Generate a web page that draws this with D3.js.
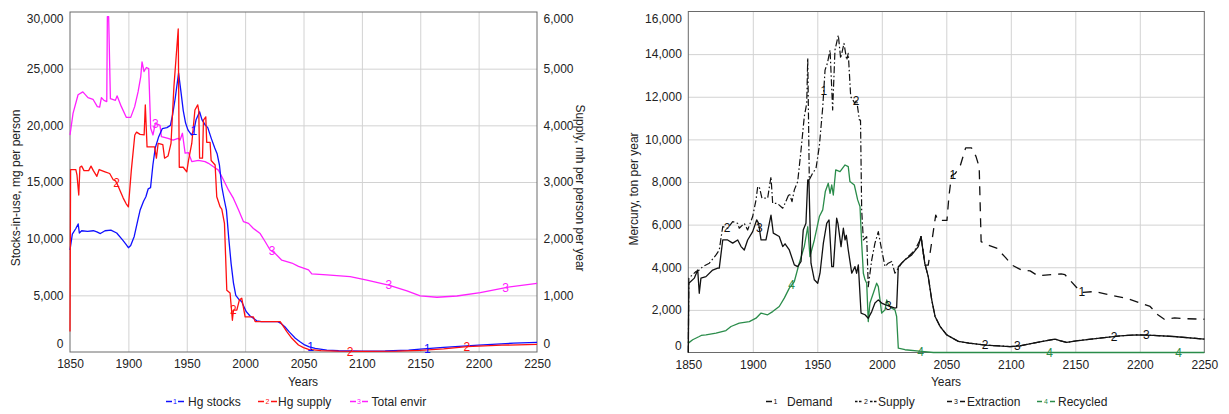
<!DOCTYPE html>
<html><head><meta charset="utf-8">
<script src="https://cdn.jsdelivr.net/npm/d3@7"></script>
<style>
body{margin:0;background:#fff;}
svg{display:block;font-family:"Liberation Sans",Arial,sans-serif;}
</style></head><body>
<svg id="c" width="1229" height="414"></svg>
<script>
// ---------------- DATA (left panel) ----------------
const yearTicks = [1850,1900,1950,2000,2050,2100,2150,2200,2250];
const stocksTicks = [0,5000,10000,15000,20000,25000,30000];
const supplyPPTicks = [0,1000,2000,3000,4000,5000,6000];
const mercuryTicks = [0,2000,4000,6000,8000,10000,12000,14000,16000];

// Hg stocks, mg per person (left axis)
const stocksYears = [1850,1852,1855,1857,1858,1860,1865,1870,1873,1876,1880,1885,1890,1895,1898,1900,1902,1905,1908,1910,1913,1915,1917,1919,1921,1923,1926,1929,1933,1936,1938,1940,1943,1945,1947,1949,1951,1954,1956,1958,1961,1963,1966,1968,1971,1974,1976,1978,1980,1982,1984,1986,1988,1990,1992,1995,1997,1999,2001,2004,2007,2010,2014,2020,2028,2031,2034,2038,2043,2047,2051,2055,2060,2070,2080,2100,2120,2140,2150,2170,2200,2230,2250];
const stocksValues = [9000,10400,10900,11300,10500,10700,10650,10700,10600,10450,10700,10750,10500,9900,9500,9200,9400,10200,11600,12500,13300,13700,14400,14500,16500,18000,19000,19700,19800,20000,21000,22300,24600,23000,21300,20200,19600,19150,19500,20500,21200,20500,20000,19800,18850,18000,17500,16500,14600,13500,12500,10000,7800,6100,5000,4600,4450,4000,3560,3200,2970,2750,2680,2680,2680,2500,2230,1750,1210,900,620,450,320,170,110,80,90,170,260,400,600,780,850];

// Hg supply, per person per year (right axis)
const hgSupplyYears = [1850,1850.5,1855,1856,1857.5,1858.5,1860,1862,1866,1868,1870,1873,1875,1880,1884,1887,1889,1891,1893,1895.5,1898,1900,1902.5,1905.5,1907,1910,1913.5,1914.5,1916,1922.5,1924,1925.5,1929.5,1931,1934,1936.5,1939,1942.7,1943.6,1947,1950,1951.5,1954.3,1957,1959.4,1960.3,1961,1963.5,1964.3,1966.3,1967.1,1970,1970.9,1974.3,1975.7,1978.6,1980,1982.3,1984.3,1987.1,1989.1,1990,1992.9,1995.1,1997.1,2000,2007.1,2008.6,2030,2032.9,2035.7,2040,2045.7,2050,2054.3,2065,2080,2100,2130,2150,2170,2190,2220,2250];
const hgSupplyValues = [360,3220,3220,3120,2770,3260,3280,3200,3200,3280,3200,3100,3220,3180,3150,3040,3020,2940,2840,2720,2620,2560,3200,3830,3880,3840,3830,4360,3620,3620,3420,3680,3660,3420,3460,3680,4680,5700,3260,3260,3180,3380,3680,4270,4360,4260,3420,3420,4090,4150,3700,3700,3380,3300,2740,2560,2520,2270,1090,1040,560,740,740,920,950,620,620,536,536,446,360,242,124,76,46,26,14,10,16,30,56,94,120,136];

// Total envir, per person (right axis)
const envirYears = [1850,1852.6,1856.9,1861,1865.4,1869.7,1873.4,1875.4,1876.9,1879.1,1881.5,1882,1883.1,1884.6,1888.9,1890.3,1894,1898.3,1902,1905.4,1908.3,1910.6,1911.7,1913.4,1915.4,1917.4,1919.1,1921.1,1923.1,1927.1,1928.3,1934,1938.3,1942.6,1944.3,1946.3,1948.6,1951.4,1954.3,1960,1965.7,1968.6,1972.9,1977.1,1981.4,1985.7,1990,1994.3,1998.6,2002.9,2007.1,2012.9,2017.1,2021.4,2025.7,2031.4,2040,2045.7,2054.3,2057.1,2070,2084.3,2090,2104.3,2122.9,2138.6,2150,2164.3,2181.4,2201.4,2224.3,2250];
const envirValues = [3830,4210,4540,4590,4490,4460,4330,4320,4490,4440,4420,5920,5920,4470,4440,4520,4330,4140,4140,4330,4590,4860,5120,4950,5020,5000,3950,3830,4040,4000,3800,3770,3740,3770,3740,3860,3510,3520,3360,3380,3360,3330,3270,3210,3040,2860,2710,2510,2300,2270,2180,2090,1950,1800,1740,1620,1570,1510,1450,1380,1360,1340,1330,1270,1180,1080,990,966,988,1046,1142,1212];

// ---------------- DATA (right panel), ton per year ----------------
const supplyYears = [1850,1850.4,1856,1858.6,1861.2,1866.3,1871.5,1874,1876.7,1880.5,1884.4,1888.3,1889.5,1893.4,1896,1899.9,1902.5,1903.8,1905,1907.1,1911.5,1914.1,1915.4,1919,1923.2,1925,1928.3,1930.4,1932.2,1934.8,1937.4,1939.9,1941.8,1942.6,1943.8,1946.4,1949,1951.6,1954.2,1956,1957.8,1959.9,1961.9,1963.7,1966.3,1968.1,1970.7,1972.8,1974,1975.9,1979.2,1980.5,1982.6,1983.5,1984.4,1985.7,1988.3,1989.5,1992.2,1994.7,1997.3,1999.9,2002.5,2005,2007.7,2010.2,2012.8,2015.4,2020.5,2025.7,2029.6,2030.4,2033.3,2036,2038.7,2041.3,2045.2,2050.3,2059.4,2067.6,2080.5,2099.4,2107,2117.5,2127.8,2134.3,2138,2143.3,2151,2169,2184.7,2197.6,2210.5,2226,2250];
const supplyValues = [0,3490,3800,3870,4030,4190,4580,4810,5910,5830,6140,6060,5830,6060,5750,6380,7160,7780,7780,7240,7240,8250,7000,7000,6770,7000,7470,7080,7630,8020,9500,11060,11690,13800,8100,8410,8640,9700,11500,13250,13570,14190,11380,14190,14890,13800,14500,13720,14040,12000,11690,11850,10910,10900,6690,5280,5440,3090,4350,5130,5670,4810,4030,4190,4270,3720,3960,4190,4500,4810,5280,5440,4190,3560,2470,1690,1220,830,520,440,345,280,310,440,560,630,560,470,550,675,780,830,800,750,630];

const extractionYears = [1850,1850.4,1854.7,1857.3,1858.5,1859.8,1863.7,1868.9,1872.8,1874,1876.7,1880.5,1884.4,1888.3,1890.9,1893.4,1896,1899.9,1903,1904.5,1906.4,1910.2,1914.1,1915.9,1920.5,1923.2,1925,1928.3,1932.2,1934.8,1937.4,1939.1,1941.2,1942.6,1943.5,1945.1,1947.7,1950.3,1952.1,1954.7,1957.3,1959.1,1961.2,1962.5,1965,1966,1968.4,1970.2,1971.5,1972.5,1974,1976.7,1979.2,1980.5,1981.8,1983.9,1987,1989.5,1992.2,1994.7,1997.3,1999.9,2002.5,2006.4,2010.2,2011.5,2012.8,2018,2023.2,2028.3,2030.4,2033.3,2036,2038.7,2041.3,2045.2,2050.3,2059.4,2067.6,2080.5,2099.4,2107,2117.5,2127.8,2134.3,2138,2143.3,2151,2169,2184.7,2197.6,2210.5,2226,2250];
const extractionValues = [0,3250,3490,3870,2780,3490,3560,3870,3960,3960,5280,5280,5130,5280,4970,4810,5280,5670,6220,6060,5280,5280,6450,5600,5440,4970,5100,4810,4110,4030,4270,5750,6060,8100,8100,4190,3410,3250,3720,5130,6060,6220,4030,4030,6300,6060,4970,5830,5280,5500,4810,3720,4030,3720,4110,1850,1770,1610,1920,2320,2470,2320,2250,2160,2080,2100,4030,4350,4580,4970,5440,4190,3560,2470,1690,1220,830,520,440,345,280,310,440,560,630,560,470,550,675,780,830,800,750,630];

const recycledYears = [1850,1853.4,1858.5,1860,1863.7,1871.5,1879.2,1883.1,1889.5,1897.3,1902.5,1906.4,1911.5,1915.4,1920.5,1924.4,1928.3,1932.2,1936,1939.9,1942.6,1944.3,1947.7,1951.6,1954.2,1956.2,1958.5,1959.9,1961.2,1962.4,1964.3,1967.6,1971.5,1974,1975.3,1978.7,1981.3,1983.1,1984.4,1985.7,1987,1988.3,1989.5,1990.8,1993.4,1996,1997.3,1998.6,1999.9,2002.5,2003.8,2005.1,2007.7,2010.2,2011.5,2012.8,2018,2030.9,2040,2250];
const recycledValues = [440,600,750,800,830,910,1030,1220,1380,1450,1610,1850,1770,1920,2160,2550,3020,3330,4190,4970,5900,4500,5280,6380,6690,7550,7940,7470,7860,7390,8570,8490,8800,8720,8020,7860,7160,6850,5130,3720,3410,3250,1450,2320,2780,3250,3090,2470,1850,2000,2470,2250,2080,2000,1690,200,130,50,0,0];

// Demand coincides with Supply until ~2030, then diverges (dashed)
const demandYears = [2029.6,2030.4,2033.5,2036,2039,2041.8,2043.5,2050.5,2052,2054,2057,2061,2065,2069.5,2073,2075.5,2077,2082,2089,2096,2101,2108,2115,2121,2129,2139,2142,2151,2156,2165,2173,2183,2191,2200,2208,2214,2219,2227,2233,2250];
const demandValues = [5280,5440,4100,4100,5300,6450,6200,6200,7300,8300,8400,8800,9600,9600,9200,8700,5200,5050,4900,4450,4100,3880,3830,3600,3640,3690,3650,3050,2820,2860,2750,2620,2520,2330,2160,1770,1560,1620,1590,1560];

// years where the series numbers are printed on the curves
const stocksLabelYears = [1956,2056,2156];
const hgSupplyLabelYears = [1890,1990,2090,2190];
const envirLabelYears = [1923,2023,2123,2223];
const demandLabelYears = [1955,2055,2155];
const supplyLabelYears = [1880,1980,2080,2180];
const extractionLabelYears = [1905,2005,2105,2205];
const recycledLabelYears = [1930,2030,2130,2230];

// ---------------- DRAWING ----------------
const svg = d3.select("#c");
const zip = (xs, ys) => xs.map((x,i)=>[x, ys[i]]);
const interp = (xs, ys, t) => {
  const i = Math.max(1, Math.min(xs.length-1, d3.bisectLeft(xs, t)));
  const f = (t - xs[i-1])/(xs[i]-xs[i-1]);
  return ys[i-1] + f*(ys[i]-ys[i-1]);
};
const fmt = d3.format(",");

function frame(g, x, y, bottom, top) {
  // grid
  g.append("g").attr("transform",`translate(0,${bottom})`)
    .call(d3.axisBottom(x).tickValues(yearTicks.slice(1,-1)).tickSize(-(bottom-top)).tickFormat(""))
    .call(a=>{a.select(".domain").remove(); a.selectAll("line").attr("stroke","#d2d2d2");});
  g.append("g").attr("transform",`translate(${x.range()[0]},0)`)
    .call(d3.axisLeft(y).tickValues(y.ticksList.slice(1,-1)).tickSize(-(x.range()[1]-x.range()[0])).tickFormat(""))
    .call(a=>{a.select(".domain").remove(); a.selectAll("line").attr("stroke","#d2d2d2");});
  g.append("rect").attr("x",x.range()[0]).attr("y",top)
    .attr("width",x.range()[1]-x.range()[0]).attr("height",bottom-top)
    .attr("fill","none").attr("stroke","#6a6a6a").attr("stroke-width",1);
  // x labels
  g.append("g").attr("transform",`translate(0,${bottom})`)
    .call(d3.axisBottom(x).tickValues(yearTicks).tickSize(0).tickPadding(7.5).tickFormat(d3.format("d")))
    .call(a=>{a.select(".domain").remove(); a.selectAll("text").attr("font-size",12).attr("fill","#222").attr("font-family","Liberation Sans, Arial, sans-serif");});
}
function yLabels(g, y, xpos, side, shiftLow, shiftHigh) {
  const ax = side==="left" ? d3.axisLeft(y) : d3.axisRight(y);
  const dom = y.domain();
  g.append("g").attr("transform",`translate(${xpos},0)`)
    .call(ax.tickValues(y.ticksList).tickSize(0).tickPadding(6.5).tickFormat(fmt))
    .call(a=>{a.select(".domain").remove();
      a.selectAll("text").attr("font-size",12).attr("fill","#222").attr("font-family","Liberation Sans, Arial, sans-serif")
       .attr("transform", d => d===dom[0] ? `translate(0,${shiftLow})` : d===dom[1] ? `translate(0,${shiftHigh})` : null);});
}
function series(g, x, y, xs, ys, color, width, dash) {
  g.append("path").datum(zip(xs,ys))
    .attr("d", d3.line().x(d=>x(d[0])).y(d=>y(d[1])))
    .attr("fill","none").attr("stroke",color).attr("stroke-width",width)
    .attr("stroke-dasharray",dash||null).attr("stroke-linejoin","round");
}
function numLabels(g, x, y, xs, ys, yrs, txt, color) {
  g.selectAll(null).data(yrs).join("text")
    .attr("x", t=>x(t)).attr("y", t=>y(interp(xs,ys,t)))
    .attr("dy","0.35em").attr("text-anchor","middle").attr("font-size",12)
    .attr("fill",color).text(txt);
}
function legend(g, items, yb) {
  items.forEach(it=>{
    const yl = yb-4.5;
    it.segs.forEach(s=>g.append("line").attr("x1",s[0]).attr("x2",s[1]).attr("y1",yl).attr("y2",yl)
      .attr("stroke",it.color).attr("stroke-width",1.5).attr("stroke-dasharray",it.dash||null));
    g.append("text").attr("x",it.nx).attr("y",yl+2.5).attr("font-size",7).attr("text-anchor","middle")
      .attr("fill",it.color).text(it.n);
    g.append("text").attr("x",it.tx).attr("y",yb).attr("font-size",12).attr("fill","#222").text(it.label);
  });
}

// ---- left panel ----
{
  const g = svg.append("g");
  const x = d3.scaleLinear().domain([1850,2250]).range([70,537]);
  const y = d3.scaleLinear().domain([0,30000]).range([352,12]); y.ticksList = stocksTicks;
  const y2 = d3.scaleLinear().domain([0,6000]).range([352,12]); y2.ticksList = supplyPPTicks;
  frame(g, x, y, 352, 12);
  yLabels(g, y, 70, "left", -8, 6.3);
  yLabels(g, y2, 537, "right", -8, 6.3);
  const BLUE="#1010ff", RED="#ff1010", MAG="#ff20ff";
  series(g, x, y2, envirYears, envirValues, MAG, 1.3);
  series(g, x, y, stocksYears, stocksValues, BLUE, 1.3);
  series(g, x, y2, hgSupplyYears, hgSupplyValues, RED, 1.3);
  numLabels(g, x, y, stocksYears, stocksValues, stocksLabelYears, "1", BLUE);
  numLabels(g, x, y2, hgSupplyYears, hgSupplyValues, hgSupplyLabelYears, "2", RED);
  numLabels(g, x, y2, envirYears, envirValues, envirLabelYears, "3", MAG);
  g.append("text").attr("transform","translate(19.5,188) rotate(-90)").attr("text-anchor","middle")
    .attr("font-size",12).attr("fill","#222").text("Stocks-in-use, mg per person");
  g.append("text").attr("transform","translate(575.5,188) rotate(90)").attr("text-anchor","middle")
    .attr("font-size",12).attr("fill","#222").text("Supply, mh per person per year");
  g.append("text").attr("x",303).attr("y",386).attr("text-anchor","middle").attr("font-size",12).attr("fill","#222").text("Years");
  legend(g, [
    {color:BLUE, n:"1", nx:175, segs:[[166,172],[178,184]], tx:188, label:"Hg stocks"},
    {color:RED, n:"2", nx:267.5, segs:[[258,264],[271,277]], tx:278, label:"Hg supply"},
    {color:MAG, n:"3", nx:359, segs:[[350,356],[362,368]], tx:371.5, label:"Total envir"}
  ], 406);
}

// ---- right panel ----
{
  const g = svg.append("g");
  const x = d3.scaleLinear().domain([1850,2250]).range([688.3,1204.3]);
  const y = d3.scaleLinear().domain([0,16000]).range([352.5,11.5]); y.ticksList = mercuryTicks;
  frame(g, x, y, 352.5, 11.5);
  yLabels(g, y, 688.3, "left", -6.5, 6.8);
  const K="#111", GREEN="#2a8c4a";
  series(g, x, y, recycledYears, recycledValues, GREEN, 1.3);
  series(g, x, y, demandYears, demandValues, K, 1.3, "9,7");
  series(g, x, y, extractionYears, extractionValues, K, 1.3);
  series(g, x, y, supplyYears, supplyValues, K, 1.2, "7,2.5,1.5,2.5");
  numLabels(g, x, y, supplyYears, supplyValues, demandLabelYears.slice(0,1), "1", K);
  numLabels(g, x, y, demandYears, demandValues, demandLabelYears.slice(1), "1", K);
  numLabels(g, x, y, supplyYears, supplyValues, supplyLabelYears, "2", K);
  numLabels(g, x, y, extractionYears, extractionValues, extractionLabelYears, "3", K);
  numLabels(g, x, y, recycledYears, recycledValues, recycledLabelYears, "4", GREEN);
  g.append("text").attr("transform","translate(637.5,189) rotate(-90)").attr("text-anchor","middle")
    .attr("font-size",12).attr("fill","#222").text("Mercury, ton per year");
  g.append("text").attr("x",946).attr("y",386).attr("text-anchor","middle").attr("font-size",12).attr("fill","#222").text("Years");
  legend(g, [
    {color:K, n:"1", nx:775.5, segs:[[766,772]], tx:787, label:"Demand"},
    {color:K, n:"2", nx:866, segs:[[855,862],[870,877]], dash:"2.5,1.5", tx:878, label:"Supply"},
    {color:K, n:"3", nx:956, segs:[[947,952],[960,965]], tx:967, label:"Extraction"},
    {color:GREEN, n:"4", nx:1046, segs:[[1037,1042],[1050,1055]], tx:1058, label:"Recycled"}
  ], 406);
}
</script>
</body></html>
